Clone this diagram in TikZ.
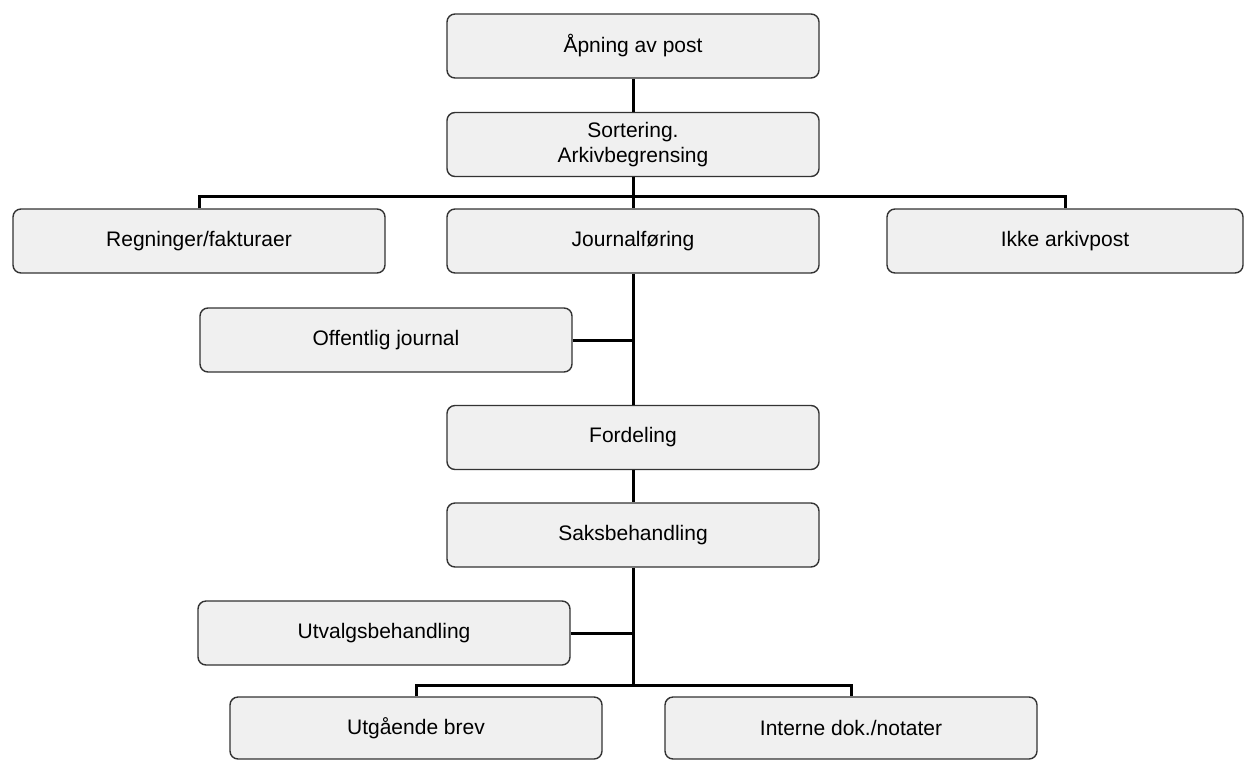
\documentclass[tikz,border=0pt]{standalone}
\usepackage{fontspec}
\setmainfont{Liberation Sans}
\usepackage{tikz}

\begin{document}
\begin{tikzpicture}[
  x=0.5pt, y=-0.5pt,
  box/.style={rectangle, draw=black!80, line width=0.7pt, rounded corners=4pt, fill=gray!12, minimum width=186pt, minimum height=32pt, align=center, font=\fontsize{10.5}{12.5}\selectfont},
  conn/.style={line width=1.5pt, black}
]
  \useasboundingbox (0,0) rectangle (1245,760);

  % Top of the chain
  \node[box] (open) at (633, 46) {Åpning av post};
  \node[box] (sort) at (633, 144.5) {Sortering.\\Arkivbegrensing};

  % First split
  \coordinate (bus) at (633, 196);
  \node[box] (regn) at (199, 241) {Regninger/fakturaer};
  \node[box] (journ) at (633, 241) {Journalføring};
  \node[box, minimum width=178pt] (ikke) at (1065, 241) {Ikke arkivpost};

  % Middle chain
  \node[box] (offj) at (386, 340) {Offentlig journal};
  \node[box] (ford) at (633, 437.5) {Fordeling};
  \node[box] (saks) at (633, 535) {Saksbehandling};
  \node[box] (utv) at (384, 633) {Utvalgsbehandling};

  % Second split
  \coordinate (bus2) at (633, 685);
  \node[box, minimum height=31pt] (utg) at (416, 728) {Utgående brev};
  \node[box, minimum height=31pt] (intn) at (851, 728) {Interne dok./notater};

  % Connectors
  \draw[conn] (open.south) -- (sort.north);
  \draw[conn] (sort.south) -- (journ.north);
  \draw[conn] (regn.north) |- (bus) -| (ikke.north);
  \draw[conn] (journ.south) -- (ford.north);
  \draw[conn] (offj.east) -- (offj.east -| journ.south);
  \draw[conn] (ford.south) -- (saks.north);
  \draw[conn] (saks.south) -- (bus2);
  \draw[conn] (utv.east) -- (utv.east -| saks.south);
  \draw[conn] (utg.north) |- (bus2) -| (intn.north);
\end{tikzpicture}
\end{document}
